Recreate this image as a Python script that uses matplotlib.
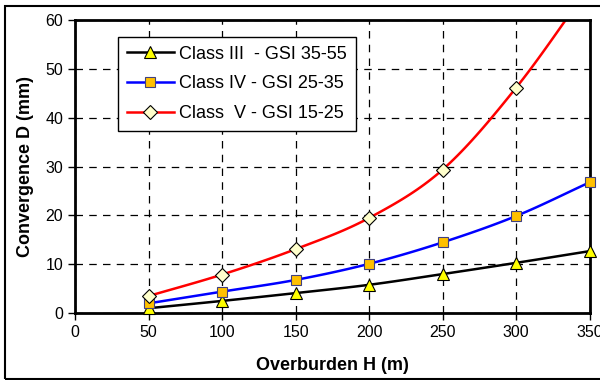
import numpy as np
import matplotlib.pyplot as plt
from matplotlib.patches import Rectangle

plt.rcParams["font.family"] = ["Liberation Sans", "DejaVu Sans"]

overburden = [50, 100, 150, 200, 250, 300, 350]
class_iii = [1.0, 2.5, 4.1, 5.8, 8.0, 10.3, 12.7]
class_iv = [2.0, 4.4, 6.8, 10.1, 14.5, 19.9, 26.8]
class_v = [3.5, 7.9, 13.1, 19.5, 29.4, 46.2, 67.0]
labels = ["Class III  - GSI 35-55", "Class IV - GSI 25-35", "Class  V - GSI 15-25"]


def smooth(x, y, n=20):
    # Catmull-Rom curve through the points, like Excel's smoothed line
    x = np.asarray(x, float)
    y = np.asarray(y, float)
    px = np.concatenate([[2 * x[0] - x[1]], x, [2 * x[-1] - x[-2]]])
    py = np.concatenate([[2 * y[0] - y[1]], y, [2 * y[-1] - y[-2]]])
    xs, ys = [], []
    t = np.linspace(0, 1, n, endpoint=False)
    for i in range(1, len(px) - 2):
        for p, out in ((px, xs), (py, ys)):
            p0, p1, p2, p3 = p[i - 1], p[i], p[i + 1], p[i + 2]
            out.extend(0.5 * (2 * p1 + (-p0 + p2) * t
                              + (2 * p0 - 5 * p1 + 4 * p2 - p3) * t ** 2
                              + (-p0 + 3 * p1 - 3 * p2 + p3) * t ** 3))
    xs.append(x[-1])
    ys.append(y[-1])
    return xs, ys


fig = plt.figure(figsize=(6, 3.8), dpi=100)
ax = fig.add_axes([0.125, 0.176, 0.858, 0.771])

series = [
    (class_iii, "black", "^", "yellow", 8),
    (class_iv, "blue", "s", "#FFC000", 7),
    (class_v, "red", "D", "#FFFFCC", 7),
]
for vals, col, mk, fc, ms in series:
    sx, sy = smooth(overburden, vals)
    ax.plot(sx, sy, color=col, lw=1.8, clip_on=True)

handles = []
for (vals, col, mk, fc, ms), lab in zip(series, labels):
    ec = "black" if mk != "s" else "#404080"
    # the last red point lies above the axis, so only clip that series
    ax.plot(overburden, vals, ls="none", marker=mk, ms=ms, mfc=fc,
            mec=ec, mew=0.8, clip_on=(col == "red"), zorder=5)
    h, = ax.plot([], [], color=col, lw=1.8, marker=mk, ms=ms, mfc=fc,
                 mec=ec, mew=0.8)
    handles.append(h)

ax.set_xlim(0, 350)
ax.set_ylim(0, 60)
ax.set_xticks(range(0, 351, 50))
ax.set_yticks(range(0, 61, 10))
ax.grid(True, color="black", ls=(0, (6, 5)), lw=0.9)
ax.set_axisbelow(True)
for s in ax.spines.values():
    s.set_linewidth(2)
ax.tick_params(labelsize=11.5, length=5, width=1)
ax.set_xlabel("Overburden H (m)", fontsize=13, fontweight="bold", labelpad=12)
ax.set_ylabel("Convergence D (mm)", fontsize=13, fontweight="bold", labelpad=8)

leg = ax.legend(handles, labels, loc="upper left", bbox_to_anchor=(0.083, 0.944),
                fontsize=13, frameon=True, fancybox=False, edgecolor="black",
                framealpha=1, handlelength=2.6, handletextpad=0.3,
                labelspacing=0.7, borderpad=0.5, borderaxespad=0)
leg.get_frame().set_linewidth(1)

fig.patches.append(Rectangle((5 / 600, 1 / 380), 1.0, 373 / 380, transform=fig.transFigure,
                             fill=False, edgecolor="black", lw=1.5))

plt.savefig("out.png", dpi=100)
